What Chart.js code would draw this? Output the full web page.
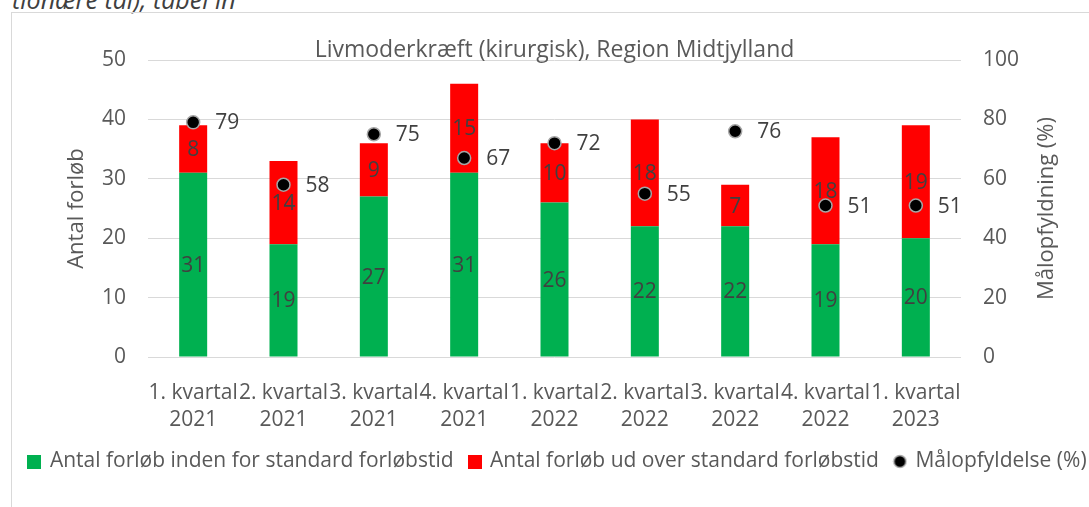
<!DOCTYPE html>
<html lang="da">
<head>
<meta charset="utf-8">
<script src="https://cdn.jsdelivr.net/npm/chart.js@4"></script>
<style>
  body { margin: 0; width: 1089px; height: 507px; overflow: hidden; background: #fff; position: relative; }
  #afskaaret { position: absolute; left: 12px; top: -15px; font: italic 25px "Open Sans", sans-serif; color: #404040; white-space: nowrap; line-height: 28px; }
  #ramme { position: absolute; left: 11px; top: 12px; width: 1100px; height: 520px; border: 1px solid #d9d9d9; }
  #holder { position: absolute; left: 12px; top: 13px; }
</style>
</head>
<body>
<div id="afskaaret">tionære tal), tabel in</div>
<div id="ramme"></div>
<div id="holder"><canvas id="graf" width="1092" height="494"></canvas></div>
<script>
// kvartaler og tal
const kvartaler = [
    ["1. kvartal", "2021"], ["2. kvartal", "2021"], ["3. kvartal", "2021"],
    ["4. kvartal", "2021"], ["1. kvartal", "2022"], ["2. kvartal", "2022"],
    ["3. kvartal", "2022"], ["4. kvartal", "2022"], ["1. kvartal", "2023"]
];
const indenFor = [31, 19, 27, 31, 26, 22, 22, 19, 20];
const udOver = [8, 14, 9, 15, 10, 18, 7, 18, 19];
const maalopfyldelse = [79, 58, 75, 67, 72, 55, 76, 51, 51];
const ticksVenstre = [0, 10, 20, 30, 40, 50];
const ticksHoejre = [0, 20, 40, 60, 80, 100];

const titel = "Livmoderkræft (kirurgisk), Region Midtjylland";
const titelVenstre = "Antal forløb";
const titelHoejre = "Målopfyldning (%)";

const skrift = '"Open Sans", sans-serif';
const graa = "#595959";
const str = 21;

function lavFirkant(farve) {
    const c = document.createElement("canvas");
    c.width = 14; c.height = 14;
    const g = c.getContext("2d");
    g.fillStyle = farve;
    g.fillRect(0, 0, 14, 14);
    return c;
}

function lavPrik() {
    const c = document.createElement("canvas");
    c.width = 15; c.height = 15;
    const g = c.getContext("2d");
    g.beginPath();
    g.arc(7.5, 7.5, 6, 0, Math.PI * 2);
    g.fillStyle = "#000";
    g.fill();
    g.lineWidth = 1.5;
    g.strokeStyle = "#a6a6a6";
    g.stroke();
    return c;
}

const markoerer = [lavFirkant("#00b050"), lavFirkant("#ff0000"), lavPrik()];

const etiketter = {
    id: "etiketter",
    afterDatasetsDraw(chart) {
        const ctx = chart.ctx;
        ctx.save();
        ctx.font = str + "px " + skrift;
        ctx.fillStyle = "#404040";
        ctx.textBaseline = "middle";
        chart.data.datasets.forEach((ds, i) => {
            const meta = chart.getDatasetMeta(i);
            meta.data.forEach((el, j) => {
                if (ds.type === "line") {
                    ctx.textAlign = "left";
                    ctx.fillText(ds.data[j], el.x + 22, el.y + 1);
                } else {
                    ctx.textAlign = "center";
                    ctx.fillText(ds.data[j], el.x, (el.y + el.base) / 2 + 1);
                }
            });
        });
        ctx.restore();
    },
    afterDraw(chart) {
        const ctx = chart.ctx;
        const a = chart.chartArea;
        const midtY = (a.top + a.bottom) / 2;
        ctx.save();
        ctx.fillStyle = graa;
        ctx.textAlign = "center";
        ctx.textBaseline = "middle";
        ctx.font = "23px " + skrift;
        ctx.fillText(titel, (a.left + a.right) / 2, 37);

        ctx.font = "22px " + skrift;
        ctx.translate(65, midtY);
        ctx.rotate(-Math.PI / 2);
        ctx.fillText(titelVenstre, 0, 0);
        ctx.restore();

        ctx.save();
        ctx.fillStyle = graa;
        ctx.textAlign = "center";
        ctx.textBaseline = "middle";
        ctx.font = "22px " + skrift;
        ctx.translate(1035, midtY);
        ctx.rotate(-Math.PI / 2);
        ctx.fillText(titelHoejre, 0, 0);
        ctx.restore();
    }
};

const ctx = document.getElementById("graf").getContext("2d");

new Chart(ctx, {
    data: {
        labels: kvartaler,
        datasets: [
            {
                type: "bar",
                label: "Antal forløb inden for standard forløbstid",
                data: indenFor,
                backgroundColor: "#00b050",
                yAxisID: "y",
                order: 1
            },
            {
                type: "bar",
                label: "Antal forløb ud over standard forløbstid",
                data: udOver,
                backgroundColor: "#ff0000",
                yAxisID: "y",
                order: 1
            },
            {
                type: "line",
                label: "Målopfyldelse (%)",
                data: maalopfyldelse,
                yAxisID: "y1",
                showLine: false,
                pointRadius: 6.5,
                pointHoverRadius: 6.5,
                pointBackgroundColor: "#000",
                pointBorderColor: "#a6a6a6",
                pointBorderWidth: 1.5,
                order: 0
            }
        ]
    },
    options: {
        responsive: false,
        devicePixelRatio: 1,
        animation: false,
        layout: { padding: { top: 47, bottom: 25, left: 0, right: 0 } },
        datasets: {
            bar: { categoryPercentage: 1, barPercentage: 0.31 }
        },
        scales: {
            x: {
                stacked: true,
                grid: { display: false, drawTicks: false },
                border: { display: false },
                ticks: {
                    color: graa,
                    font: { family: skrift, size: str, lineHeight: 1.29 },
                    padding: 22,
                    maxRotation: 0,
                    autoSkip: false
                },
                afterFit(scale) { scale.height = 78; }
            },
            y: {
                stacked: true,
                position: "left",
                min: 0,
                max: 50,
                afterBuildTicks(scale) { scale.ticks = ticksVenstre.map(v => ({ value: v })); },
                grid: { color: "#d9d9d9", lineWidth: 1, drawTicks: false },
                border: { display: false },
                ticks: { color: graa, font: { family: skrift, size: str }, padding: 22 },
                afterFit(scale) { scale.width = 136; }
            },
            y1: {
                position: "right",
                min: 0,
                max: 100,
                afterBuildTicks(scale) { scale.ticks = ticksHoejre.map(v => ({ value: v })); },
                grid: { display: false, drawTicks: false },
                border: { display: false },
                ticks: { color: graa, font: { family: skrift, size: str }, padding: 22 },
                afterFit(scale) { scale.width = 143; }
            }
        },
        plugins: {
            tooltip: { enabled: false },
            legend: {
                position: "bottom",
                labels: {
                    usePointStyle: true,
                    boxWidth: 10,
                    boxHeight: 14,
                    padding: 16,
                    color: graa,
                    font: { family: skrift, size: str },
                    sort: (a, b) => a.datasetIndex - b.datasetIndex,
                    generateLabels(chart) {
                        const items = Chart.defaults.plugins.legend.labels.generateLabels(chart);
                        items.forEach(it => { it.pointStyle = markoerer[it.datasetIndex]; });
                        return items;
                    }
                }
            }
        }
    },
    plugins: [etiketter]
});
</script>
</body>
</html>
